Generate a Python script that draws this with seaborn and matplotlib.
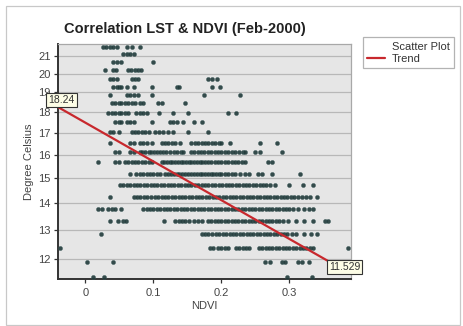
import matplotlib
matplotlib.use("Agg")
import matplotlib.pyplot as plt
import matplotlib.patches as mpatches
from matplotlib.lines import Line2D
from matplotlib.ticker import FixedLocator, NullLocator, FixedFormatter
import seaborn as sns
import pandas as pd

# ---- data ----
lst_levels = [21.54, 21.10, 20.65, 20.21, 19.73, 19.27, 18.85, 18.44, 17.97, 17.51,
              17.05, 16.54, 16.14, 15.67, 15.19, 14.74, 14.26, 13.78, 13.34, 12.86,
              12.39, 11.92, 11.42]

ndvi_rows = [
    [0.026, 0.031, 0.036, 0.041, 0.046, 0.061, 0.068, 0.080],
    [0.056, 0.061, 0.066, 0.071],
    [0.041, 0.046, 0.053, 0.099],
    [0.029, 0.041, 0.045, 0.062, 0.067, 0.073, 0.078, 0.082],
    [0.036, 0.041, 0.046, 0.068, 0.073, 0.078, 0.181, 0.186, 0.193],
    [0.041, 0.046, 0.049, 0.053, 0.061, 0.072, 0.098, 0.134, 0.138, 0.186, 0.198],
    [0.036, 0.061, 0.066, 0.071, 0.078, 0.098, 0.174, 0.227],
    [0.039, 0.044, 0.049, 0.053, 0.058, 0.063, 0.068, 0.073, 0.080, 0.085,
     0.107, 0.112, 0.146],
    [0.034, 0.039, 0.044, 0.049, 0.053, 0.058, 0.063, 0.075, 0.080, 0.085, 0.090,
     0.109, 0.129, 0.151, 0.210, 0.222],
    [0.044, 0.049, 0.053, 0.061, 0.066, 0.071, 0.098, 0.125, 0.129, 0.134, 0.144,
     0.159, 0.171],
    [0.036, 0.041, 0.049, 0.068, 0.073, 0.078, 0.083, 0.088, 0.093, 0.102, 0.109,
     0.114, 0.121, 0.129, 0.151, 0.181],
    [0.036, 0.066, 0.071, 0.080, 0.085, 0.090, 0.098, 0.112, 0.117, 0.122, 0.127,
     0.132, 0.139, 0.156, 0.161, 0.166, 0.171, 0.176, 0.181, 0.186, 0.191, 0.196,
     0.200, 0.213, 0.257, 0.281],
    [0.044, 0.049, 0.066, 0.071, 0.080, 0.084, 0.088, 0.093, 0.097, 0.101, 0.105,
     0.110, 0.114, 0.119, 0.124, 0.130, 0.135, 0.140, 0.144, 0.156, 0.160, 0.165,
     0.170, 0.175, 0.180, 0.185, 0.190, 0.195, 0.200, 0.205, 0.210, 0.215, 0.220,
     0.226, 0.231, 0.235, 0.249, 0.257, 0.289],
    [0.019, 0.044, 0.049, 0.058, 0.063, 0.068, 0.073, 0.078, 0.083, 0.088, 0.093,
     0.098, 0.112, 0.116, 0.120, 0.124, 0.128, 0.132, 0.136, 0.140, 0.144, 0.148,
     0.152, 0.156, 0.160, 0.164, 0.168, 0.172, 0.176, 0.180, 0.185, 0.190, 0.195,
     0.200, 0.205, 0.210, 0.215, 0.220, 0.225, 0.230, 0.235, 0.269, 0.274],
    [0.066, 0.075, 0.080, 0.085, 0.090, 0.095, 0.100, 0.105, 0.110, 0.117, 0.122,
     0.126, 0.130, 0.134, 0.138, 0.142, 0.146, 0.151, 0.156, 0.160, 0.164, 0.168,
     0.172, 0.176, 0.180, 0.184, 0.188, 0.192, 0.196, 0.200, 0.205, 0.210, 0.215,
     0.220, 0.227, 0.235, 0.240, 0.254, 0.259, 0.274, 0.315],
    [0.051, 0.056, 0.061, 0.066, 0.071, 0.076, 0.081, 0.086, 0.091, 0.096, 0.101,
     0.106, 0.111, 0.116, 0.121, 0.126, 0.131, 0.136, 0.141, 0.146, 0.151, 0.156,
     0.161, 0.166, 0.171, 0.176, 0.181, 0.186, 0.191, 0.196, 0.201, 0.206, 0.211,
     0.216, 0.221, 0.226, 0.231, 0.236, 0.241, 0.246, 0.251, 0.256, 0.261, 0.266,
     0.271, 0.279, 0.300, 0.320, 0.335],
    [0.036, 0.071, 0.076, 0.081, 0.086, 0.091, 0.096, 0.102, 0.107, 0.112, 0.117,
     0.122, 0.127, 0.132, 0.137, 0.142, 0.147, 0.152, 0.157, 0.162, 0.167, 0.172,
     0.177, 0.182, 0.187, 0.192, 0.197, 0.202, 0.207, 0.212, 0.217, 0.222, 0.227,
     0.232, 0.237, 0.242, 0.247, 0.252, 0.257, 0.262, 0.267, 0.272, 0.277, 0.282,
     0.287, 0.292, 0.297, 0.302, 0.307, 0.312, 0.318, 0.324, 0.330, 0.341],
    [0.019, 0.024, 0.034, 0.039, 0.044, 0.053, 0.085, 0.090, 0.095, 0.100, 0.105,
     0.110, 0.115, 0.120, 0.125, 0.130, 0.135, 0.140, 0.145, 0.150, 0.155, 0.160,
     0.165, 0.170, 0.175, 0.180, 0.185, 0.190, 0.195, 0.200, 0.205, 0.210, 0.215,
     0.220, 0.225, 0.230, 0.235, 0.240, 0.245, 0.250, 0.255, 0.260, 0.265, 0.270,
     0.275, 0.280, 0.285, 0.290, 0.295, 0.300, 0.305, 0.312, 0.321, 0.328, 0.335],
    [0.037, 0.048, 0.055, 0.060, 0.115, 0.132, 0.137, 0.142, 0.147, 0.153, 0.160,
     0.166, 0.172, 0.180, 0.185, 0.190, 0.195, 0.200, 0.205, 0.210, 0.215, 0.220,
     0.225, 0.230, 0.235, 0.240, 0.245, 0.250, 0.255, 0.260, 0.265, 0.270, 0.275,
     0.280, 0.285, 0.290, 0.298, 0.310, 0.322, 0.335, 0.352, 0.356],
    [0.023, 0.171, 0.176, 0.181, 0.186, 0.192, 0.197, 0.202, 0.207, 0.212, 0.217,
     0.222, 0.227, 0.232, 0.237, 0.242, 0.247, 0.252, 0.257, 0.262, 0.267, 0.272,
     0.277, 0.282, 0.287, 0.292, 0.297, 0.304, 0.310, 0.321, 0.331, 0.340],
    [-0.037, 0.183, 0.188, 0.195, 0.200, 0.205, 0.210, 0.221, 0.226, 0.231, 0.236,
     0.241, 0.255, 0.260, 0.265, 0.270, 0.275, 0.280, 0.285, 0.290, 0.295, 0.300,
     0.305, 0.310, 0.315, 0.320, 0.325, 0.330, 0.335, 0.386],
    [0.003, 0.041, 0.264, 0.272, 0.289, 0.294, 0.313, 0.318, 0.328],
    [0.012, 0.027, 0.296, 0.333],
]

trend_ndvi = [-0.040, 0.390]
trend_lst = [18.24, 11.529]
trend_labels = ["18.24", "11.529"]

y_ticks = [12, 13, 14, 15, 16, 17, 18, 19, 20, 21]
x_ticks = [0, 0.1, 0.2, 0.3]
x_ticklabels = ["0", "0.1", "0.2", "0.3"]

title = "Correlation LST & NDVI (Feb-2000)"

# ---- build tidy table ----
recs = []
for lvl, row in zip(lst_levels, ndvi_rows):
    for v in row:
        recs.append({"NDVI": v, "LST": lvl})
df = pd.DataFrame(recs)
trend_df = pd.DataFrame({"NDVI": trend_ndvi, "LST": trend_lst})

sns.set_style("white")
plt.rcParams["font.family"] = ["Liberation Sans", "DejaVu Sans"]

fig = plt.figure(figsize=(4.63, 3.26), dpi=100)
ax = fig.add_axes([0.1246, 0.1433, 0.6329, 0.7218])
ax.set_facecolor("#e6e6e6")

ax.set_yscale("log")
ax.set_xlim(-0.0406, 0.390)
ax.set_ylim(11.36, 21.7)

ax.yaxis.set_major_locator(FixedLocator(y_ticks))
ax.yaxis.set_major_formatter(FixedFormatter([str(t) for t in y_ticks]))
ax.yaxis.set_minor_locator(NullLocator())
ax.set_xticks(x_ticks)
ax.set_xticklabels(x_ticklabels)

ax.grid(axis="y", color="#b8b8b8", linewidth=0.9)
ax.set_axisbelow(True)

sns.scatterplot(data=df, x="NDVI", y="LST", ax=ax, marker="o", s=9,
                color="#213a3a", edgecolor="#3a5858", linewidth=0.3, alpha=0.9,
                legend=False, clip_on=False, zorder=3)
sns.lineplot(data=trend_df, x="NDVI", y="LST", ax=ax, color="#c8282d",
             linewidth=1.6, zorder=4, legend=False)

for x, y, lab, dx in zip(trend_ndvi, trend_lst, trend_labels, [2.5, -4.5]):
    ax.annotate(lab, xy=(x, y), xytext=(dx, 1.5), textcoords="offset points",
                ha="center", va="bottom", fontsize=7.5, color="#333333",
                annotation_clip=False, zorder=6,
                bbox=dict(boxstyle="square,pad=0.2", fc="#fdfde6", ec="#333333", lw=0.8))

for side in ["top", "right"]:
    ax.spines[side].set_color("#a8a8a8")
    ax.spines[side].set_linewidth(0.9)
for side in ["left", "bottom"]:
    ax.spines[side].set_color("#333333")
    ax.spines[side].set_linewidth(1.4)

ax.tick_params(axis="both", which="major", length=3, width=0.9, color="#333333",
               labelsize=8, labelcolor="#444444", pad=2, left=True, bottom=True)
ax.tick_params(axis="x", pad=3.5)
ax.set_xlabel("NDVI", fontsize=8, color="#444444", labelpad=2)
ax.set_ylabel("Degree Celsius", fontsize=8, color="#444444", labelpad=3)

fig.text(0.40, 0.912, title, ha="center", va="center", fontsize=10.5,
         fontweight="bold", color="#222222")

handles = [Line2D([], [], color="none"),
           Line2D([], [], color="#c8282d", linewidth=1.6)]
leg = fig.legend(handles, ["Scatter Plot", "Trend"], loc="upper left",
                 bbox_to_anchor=(0.784, 0.885), fontsize=8, frameon=True,
                 fancybox=False, handlelength=1.6, handletextpad=0.6,
                 borderpad=0.4, labelspacing=0.15, borderaxespad=0)
leg.get_frame().set_edgecolor("#a0a0a0")
leg.get_frame().set_linewidth(0.9)
for t in leg.get_texts():
    t.set_color("#333333")

fig.patches.append(mpatches.Rectangle((6 / 463, 1 / 326), 454 / 463, 319 / 326,
                                      transform=fig.transFigure, fill=False,
                                      ec="#c8c8c8", lw=0.9))

fig.savefig("out.png", dpi=100)
